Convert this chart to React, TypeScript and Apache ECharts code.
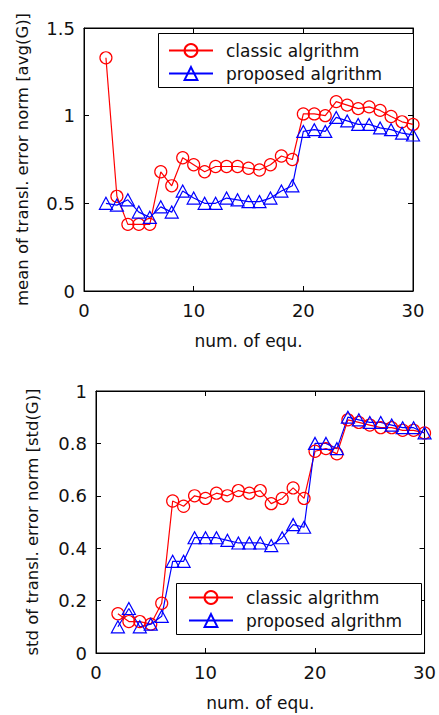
import React, { useEffect, useRef } from 'react';
import * as echarts from 'echarts';

const xs = [2, 3, 4, 5, 6, 7, 8, 9, 10, 11, 12, 13, 14, 15, 16, 17, 18, 19, 20, 21, 22, 23, 24, 25, 26, 27, 28, 29, 30];
const meanClassic = [1.33, 0.54, 0.38, 0.38, 0.38, 0.68, 0.6, 0.76, 0.72, 0.68, 0.71, 0.71, 0.71, 0.7, 0.69, 0.72, 0.77, 0.75, 1.01, 1.01, 1.0, 1.08, 1.06, 1.04, 1.05, 1.03, 0.995, 0.965, 0.95];
const meanProposed = [0.5, 0.49, 0.52, 0.45, 0.42, 0.48, 0.45, 0.57, 0.53, 0.5, 0.5, 0.53, 0.52, 0.51, 0.51, 0.53, 0.57, 0.6, 0.91, 0.92, 0.91, 0.99, 0.97, 0.95, 0.95, 0.93, 0.92, 0.9, 0.89];
const stdClassic = [0.15, 0.12, 0.12, 0.11, 0.19, 0.58, 0.56, 0.6, 0.59, 0.61, 0.6, 0.62, 0.61, 0.62, 0.57, 0.59, 0.63, 0.59, 0.77, 0.78, 0.76, 0.89, 0.88, 0.87, 0.86, 0.86, 0.85, 0.85, 0.84];
const stdProposed = [0.1, 0.17, 0.1, 0.11, 0.14, 0.35, 0.35, 0.44, 0.44, 0.44, 0.43, 0.42, 0.42, 0.42, 0.41, 0.44, 0.49, 0.48, 0.8, 0.8, 0.78, 0.9, 0.89, 0.88, 0.88, 0.87, 0.86, 0.86, 0.84];

const seriesNames = ['classic algrithm', 'proposed algrithm'];
const xAxisName = 'num. of equ.';
const meanAxisName = 'mean of transl. error norm [avg(G)]';
const stdAxisName = 'std of transl. error norm [std(G)]';

const FONT = 'DejaVu Sans, Verdana, sans-serif';
const RED = '#ff0000';
const BLUE = '#0000ff';

function pairs(vals: number[]) {
  return xs.map((x, i) => [x, vals[i]]);
}

function mkSeries(name: string, vals: number[], grid: number, color: string, symbol: string, size: any) {
  return {
    name,
    type: 'line',
    xAxisIndex: grid * 2,
    yAxisIndex: grid * 2,
    data: pairs(vals),
    symbol,
    symbolSize: size,
    showSymbol: true,
    lineStyle: { color, width: 1.2 },
    itemStyle: { color: 'rgba(0,0,0,0)', borderColor: color, borderWidth: 1.2 },
    z: 2,
  };
}

const tickStyle = { show: true, inside: true, length: 5, lineStyle: { color: '#000', width: 1 } };

function mkX(grid: number, main: boolean) {
  return {
    gridIndex: grid,
    type: 'value',
    min: 0,
    max: 30,
    interval: 10,
    position: main ? 'bottom' : 'top',
    name: main ? xAxisName : '',
    nameLocation: 'middle',
    nameGap: 41,
    nameTextStyle: { fontFamily: FONT, fontSize: 17, color: '#111' },
    axisLine: { show: true, onZero: false, lineStyle: { color: '#000', width: 1 } },
    axisTick: tickStyle,
    axisLabel: { show: main, fontFamily: FONT, fontSize: 18, color: '#111', margin: 10 },
    splitLine: { show: false },
  };
}

function mkY(grid: number, main: boolean, max: number, interval: number, name: string, gap: number) {
  return {
    gridIndex: grid,
    type: 'value',
    min: 0,
    max,
    interval,
    position: main ? 'left' : 'right',
    name: main ? name : '',
    nameLocation: 'middle',
    nameRotate: 90,
    nameGap: gap,
    nameTextStyle: { fontFamily: FONT, fontSize: 16.5, color: '#111' },
    axisLine: { show: true, onZero: false, lineStyle: { color: '#000', width: 1 } },
    axisTick: tickStyle,
    axisLabel: { show: main, fontFamily: FONT, fontSize: 18, color: '#111', margin: 9 },
    splitLine: { show: false },
  };
}

function mkLegend(left: number, top: number) {
  return {
    orient: 'vertical',
    left,
    top,
    data: seriesNames,
    itemWidth: 44,
    itemHeight: 16,
    itemGap: 6,
    padding: 0,
    selectedMode: false,
    textStyle: { fontFamily: FONT, fontSize: 17, lineHeight: 16, color: '#111', padding: [0, 0, 0, 8] },
    z: 6,
  };
}

export default function App() {
  const ref = useRef<HTMLDivElement>(null);
  useEffect(() => {
    if (!ref.current) return;
    const chart = echarts.init(ref.current, undefined, { renderer: 'svg' });
    chart.setOption({
      animation: false,
      backgroundColor: '#fff',
      grid: [
        { left: 84, top: 28, width: 329, height: 263, show: true, borderColor: '#000', borderWidth: 1, backgroundColor: 'transparent' },
        { left: 96, top: 391, width: 332, height: 262, show: true, borderColor: '#000', borderWidth: 1, backgroundColor: 'transparent' },
      ],
      xAxis: [mkX(0, true), mkX(0, false), mkX(1, true), mkX(1, false)],
      yAxis: [
        mkY(0, true, 1.5, 0.5, meanAxisName, 53),
        mkY(0, false, 1.5, 0.5, '', 0),
        mkY(1, true, 1, 0.2, stdAxisName, 55),
        mkY(1, false, 1, 0.2, '', 0),
      ],
      legend: [mkLegend(168, 42), mkLegend(188, 589)],
      graphic: [
        { type: 'rect', left: 158, top: 33, shape: { width: 255, height: 54 }, style: { fill: '#fff', stroke: '#000', lineWidth: 1 }, z: 5 },
        { type: 'rect', left: 176, top: 583, shape: { width: 245, height: 51 }, style: { fill: '#fff', stroke: '#000', lineWidth: 1 }, z: 5 },
      ],
      series: [
        mkSeries(seriesNames[0], meanClassic, 0, RED, 'circle', 12),
        mkSeries(seriesNames[1], meanProposed, 0, BLUE, 'triangle', [13, 12]),
        mkSeries(seriesNames[0], stdClassic, 1, RED, 'circle', 12),
        mkSeries(seriesNames[1], stdProposed, 1, BLUE, 'triangle', [13, 12]),
      ],
    });
    return () => chart.dispose();
  }, []);
  return <div ref={ref} style={{ position: 'fixed', left: 0, top: 0, width: 439, height: 715 }} />;
}
